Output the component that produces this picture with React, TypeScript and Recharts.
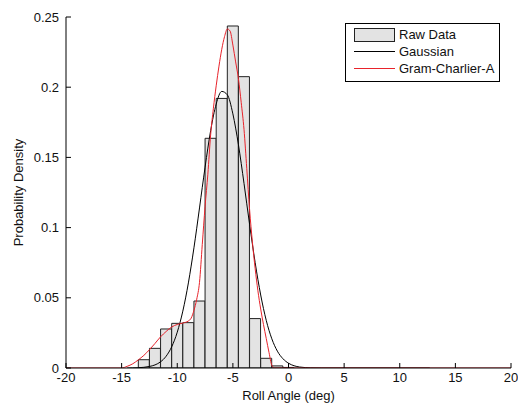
import { Bar, ComposedChart, Legend, Line, XAxis, YAxis } from "recharts";

const binCenters = [-13, -12, -11, -10, -9, -8, -7, -6, -5, -4, -3, -2, -1, 0];
const binDensity = [
  0.0059, 0.014, 0.0278, 0.0318, 0.0323, 0.0477, 0.1636, 0.192, 0.2436, 0.2075, 0.0352, 0.0069,
  0.0015, 0.0004,
];

const gaussX = [
  -14.5, -14, -13.5, -13, -12.5, -12, -11.5, -11, -10.5, -10, -9.5, -9, -8.5, -8, -7.5, -7, -6.5, -6,
  -5.5, -5, -4.5, -4, -3.5, -3, -2.5, -2, -1.5, -1, -0.5, 0, 0.5, 1, 1.5, 2, 3, 5, 12.7,
];
const gaussY = [
  0, 0.0001, 0.0002, 0.0005, 0.0011, 0.0022, 0.0044, 0.0084, 0.0151, 0.0255, 0.0405, 0.0606, 0.0856,
  0.114, 0.143, 0.169, 0.188, 0.197, 0.1946, 0.181, 0.159, 0.1315, 0.1024, 0.0752, 0.052, 0.0339,
  0.0208, 0.012, 0.0066, 0.0034, 0.0016, 0.0007, 0.0003, 0.0001, 0, 0, 0,
];

const gcaX = [
  -20, -15, -14.5, -14, -13.5, -13, -12.5, -12, -11.5, -11, -10.5, -10, -9.5, -9, -8.75, -8.5, -8.25,
  -8, -7.75, -7.5, -7.25, -7, -6.75, -6.5, -6.25, -6, -5.75, -5.5, -5.25, -5, -4.75, -4.5, -4.25, -4,
  -3.75, -3.5, -3.25, -3, -2.75, -2.5, -2.25, -2, -1.75, -1.5, -1.25, 20,
];
const gcaY = [
  0, 0, 0.0012, 0.003, 0.0058, 0.009, 0.013, 0.0175, 0.0222, 0.026, 0.0292, 0.031, 0.032, 0.0335,
  0.0355, 0.041, 0.049, 0.061, 0.088, 0.115, 0.138, 0.166, 0.185, 0.201, 0.215, 0.227, 0.236, 0.2415,
  0.24, 0.23, 0.218, 0.206, 0.189, 0.17, 0.142, 0.113, 0.09, 0.071, 0.055, 0.042, 0.031, 0.021, 0.011,
  0.002, 0, 0,
];

const xTicks = [-20, -15, -10, -5, 0, 5, 10, 15, 20];
const yTicks = [0, 0.05, 0.1, 0.15, 0.2, 0.25];

const histRows = binCenters.map((x, i) => ({ x, hist: binDensity[i] }));
const gaussRows = gaussX.map((x, i) => ({ x, gauss: gaussY[i] }));
const gcaRows = gcaX.map((x, i) => ({ x, gca: gcaY[i] }));

const FONT = "'Liberation Sans', Arial, sans-serif";
const BAR_FILL = "#e3e3e3";
const RED = "#e8232b";

function XTick({ x, y, payload }: any) {
  return (
    <g>
      <line x1={x} x2={x} y1={y} y2={y - 5} stroke="#000" />
      <text x={x} y={y + 14} textAnchor="middle" fontSize={13} fontFamily={FONT} fill="#111">
        {payload.value}
      </text>
    </g>
  );
}

function YTick({ x, y, payload }: any) {
  return (
    <g>
      <line x1={x} x2={x + 5} y1={y} y2={y} stroke="#000" />
      <text x={x - 7} y={y + 4.5} textAnchor="end" fontSize={13} fontFamily={FONT} fill="#111">
        {payload.value}
      </text>
    </g>
  );
}

function YTitle({ viewBox }: any) {
  const cx = viewBox.x + 10;
  const cy = viewBox.y + viewBox.height / 2;
  return (
    <text
      x={cx}
      y={cy}
      transform={`rotate(-90 ${cx} ${cy})`}
      textAnchor="middle"
      dominantBaseline="central"
      fontSize={13}
      fontFamily={FONT}
      fill="#111"
    >
      Probability Density
    </text>
  );
}

function LegendBox() {
  const row = { display: "flex", alignItems: "center", height: 17 } as const;
  return (
    <div
      style={{
        border: "1px solid #000",
        background: "#fff",
        padding: "2px 0 4px 8px",
        fontFamily: FONT,
        fontSize: 13,
        color: "#111",
        lineHeight: "17px",
      }}
    >
      <div style={row}>
        <span
          style={{ width: 39, height: 12, background: BAR_FILL, border: "1px solid #222", marginRight: 4 }}
        />
        Raw Data
      </div>
      <div style={row}>
        <span style={{ width: 41, height: 1, background: "#000", marginRight: 4 }} />
        Gaussian
      </div>
      <div style={row}>
        <span style={{ width: 41, height: 1, background: RED, marginRight: 4 }} />
        Gram-Charlier-A
      </div>
    </div>
  );
}

export default function App() {
  return (
    <>
      <style>{"body{margin:0}"}</style>
      <ComposedChart
        width={518}
        height={407}
        data={histRows}
        barCategoryGap={0}
        barGap={0}
        margin={{ top: 17, right: 7, bottom: 0, left: 8 }}
      >
        <XAxis
          type="number"
          dataKey="x"
          domain={[-20, 20]}
          ticks={xTicks}
          interval={0}
          allowDataOverflow
          height={39}
          stroke="#000"
          tickLine={false}
          tickSize={0}
          tickMargin={0}
          tick={<XTick />}
          label={{
            value: "Roll Angle (deg)",
            position: "insideBottom",
            offset: 7,
            fontSize: 13,
            fontFamily: FONT,
            fill: "#111",
          }}
        />
        <XAxis
          xAxisId="curves"
          type="number"
          dataKey="x"
          domain={[-20, 20]}
          allowDataOverflow
          hide
        />
        <YAxis
          type="number"
          domain={[0, 0.25]}
          ticks={yTicks}
          interval={0}
          allowDataOverflow
          width={58}
          stroke="#000"
          tickLine={false}
          tickSize={0}
          tickMargin={0}
          tick={<YTick />}
          label={<YTitle />}
        />
        <Legend
          layout="vertical"
          align="center"
          verticalAlign="middle"
          wrapperStyle={{ left: 345, top: 23, width: 155 }}
          content={() => <LegendBox />}
        />
        <Bar
          dataKey="hist"
          barSize={11}
          fill={BAR_FILL}
          stroke="#222"
          strokeWidth={1}
          isAnimationActive={false}
        />
        <Line
          xAxisId="curves"
          data={gaussRows}
          type="monotone"
          dataKey="gauss"
          stroke="#000"
          strokeWidth={1}
          dot={false}
          activeDot={false}
          isAnimationActive={false}
        />
        <Line
          xAxisId="curves"
          data={gcaRows}
          type="monotone"
          dataKey="gca"
          stroke={RED}
          strokeWidth={1}
          dot={false}
          activeDot={false}
          isAnimationActive={false}
        />
      </ComposedChart>
    </>
  );
}
